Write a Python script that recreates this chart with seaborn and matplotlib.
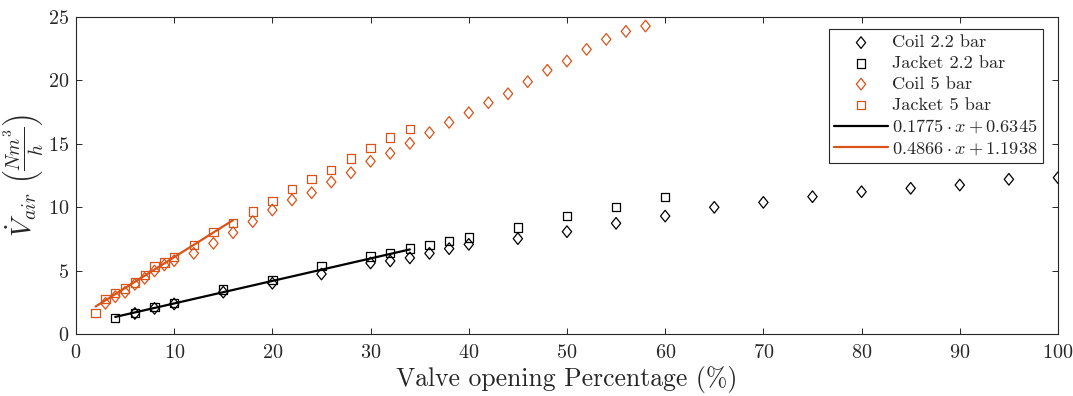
import numpy as np
import pandas as pd
import seaborn as sns
import matplotlib
matplotlib.use("Agg")
import matplotlib.pyplot as plt
from matplotlib.path import Path
from matplotlib.markers import MarkerStyle

# ---- measurements -------------------------------------------------------
coil22_x = [6, 8, 10, 15, 20, 25, 30, 32, 34, 36, 38, 40, 45, 50, 55, 60,
            65, 70, 75, 80, 85, 90, 95, 100]
coil22_y = [1.62, 2.02, 2.37, 3.30, 4.00, 4.73, 5.60, 5.76, 6.00, 6.36, 6.73,
            7.07, 7.52, 8.07, 8.73, 9.30, 9.99, 10.38, 10.83, 11.22, 11.49,
            11.75, 12.20, 12.33]

jacket22_x = [4, 6, 8, 10, 15, 20, 25, 30, 32, 34, 36, 38, 40, 45, 50, 55, 60]
jacket22_y = [1.24, 1.68, 2.12, 2.45, 3.50, 4.26, 5.36, 6.10, 6.40, 6.73, 7.02,
              7.36, 7.60, 8.41, 9.30, 10.04, 10.78]

coil5_x = [3, 4, 5, 6, 7, 8, 9, 10, 12, 14, 16, 18, 20, 22, 24, 26, 28, 30,
           32, 34, 36, 38, 40, 42, 44, 46, 48, 50, 52, 54, 56, 58]
coil5_y = [2.42, 2.94, 3.29, 3.92, 4.39, 4.97, 5.44, 5.78, 6.36, 7.15, 7.99,
           8.86, 9.78, 10.57, 11.14, 11.99, 12.72, 13.62, 14.25, 15.04, 15.88,
           16.69, 17.45, 18.24, 18.95, 19.90, 20.80, 21.53, 22.45, 23.24,
           23.87, 24.29]

jacket5_x = [2, 3, 4, 5, 6, 7, 8, 9, 10, 12, 14, 16, 18, 20, 22, 24, 26, 28,
             30, 32, 34]
jacket5_y = [1.63, 2.76, 3.21, 3.60, 4.07, 4.65, 5.31, 5.65, 6.05, 7.02, 8.02,
             8.73, 9.65, 10.49, 11.41, 12.22, 12.93, 13.83, 14.67, 15.51, 16.19]

# linear fits: slope, intercept and fitted range
fit22 = (0.1775, 0.6345, [4, 34])
fit5 = (0.4866, 1.1938, [2, 16])

x_ticks = list(range(0, 101, 10))
y_ticks = list(range(0, 26, 5))

# ---- style ----------------------------------------------------------------
sns.set_style("ticks")
plt.rcParams.update({
    "font.family": "serif",
    "font.serif": ["cmr10"],
    "mathtext.fontset": "cm",
    "axes.formatter.use_mathtext": True,
    "axes.unicode_minus": False,
    "axes.edgecolor": "#262626",
    "xtick.color": "#262626",
    "ytick.color": "#262626",
    "xtick.direction": "in",
    "ytick.direction": "in",
    "xtick.top": True,
    "ytick.right": True,
})

ORANGE = "#D95319"
BLACK = "#000000"

# slightly tall diamond outline
diamond = MarkerStyle(Path([(0, 1), (0.8, 0), (0, -1), (-0.8, 0), (0, 1)],
                           [Path.MOVETO, Path.LINETO, Path.LINETO,
                            Path.LINETO, Path.CLOSEPOLY]))

fig = plt.figure(figsize=(10.73, 3.96), dpi=100)
ax = fig.add_axes([0.0708, 0.1566, 0.9152, 0.8004])

series = [
    (coil22_x, coil22_y, "Coil 2.2 bar", BLACK, diamond, 70),
    (jacket22_x, jacket22_y, "Jacket 2.2 bar", BLACK, "s", 36),
    (coil5_x, coil5_y, "Coil 5 bar", ORANGE, diamond, 70),
    (jacket5_x, jacket5_y, "Jacket 5 bar", ORANGE, "s", 36),
]
for xs, ys, name, col, mk, size in series:
    df = pd.DataFrame({"x": xs, "y": ys})
    sns.scatterplot(data=df, x="x", y="y", ax=ax, marker=mk, s=size,
                    facecolors="none", edgecolor=col, linewidth=0.9,
                    label=name, zorder=3)

for (a, b, rng), col in [(fit22, BLACK), (fit5, ORANGE)]:
    xs = np.array(rng, dtype=float)
    df = pd.DataFrame({"x": xs, "y": a * xs + b})
    sns.lineplot(data=df, x="x", y="y", ax=ax, color=col, linewidth=1.6,
                 label=rf"${a:.4f}\cdot x+{b:.4f}$", zorder=4)

ax.set_xlim(0, 100)
ax.set_ylim(0, 25)
ax.set_xticks(x_ticks)
ax.set_yticks(y_ticks)
ax.tick_params(axis="both", labelsize=14.5, length=4.5, width=0.7, pad=5)
ax.tick_params(axis="x", pad=7)
for sp in ax.spines.values():
    sp.set_linewidth(0.8)
    sp.set_visible(True)

ax.set_xlabel("Valve opening Percentage (%)", fontsize=18.5, labelpad=3)
ax.set_ylabel(r"$\dot{V}_{air}\ \left(\frac{Nm^3}{h}\right)$", fontsize=20,
              labelpad=2)

leg = ax.legend(loc="upper right", bbox_to_anchor=(0.985, 0.962),
                borderaxespad=0, fontsize=13.2, frameon=True, fancybox=False,
                framealpha=1, edgecolor="#262626", labelspacing=0.27,
                handlelength=2.9, handletextpad=0.25, borderpad=0.3)
leg.get_frame().set_linewidth(0.8)

fig.savefig("out.png", dpi=100)
